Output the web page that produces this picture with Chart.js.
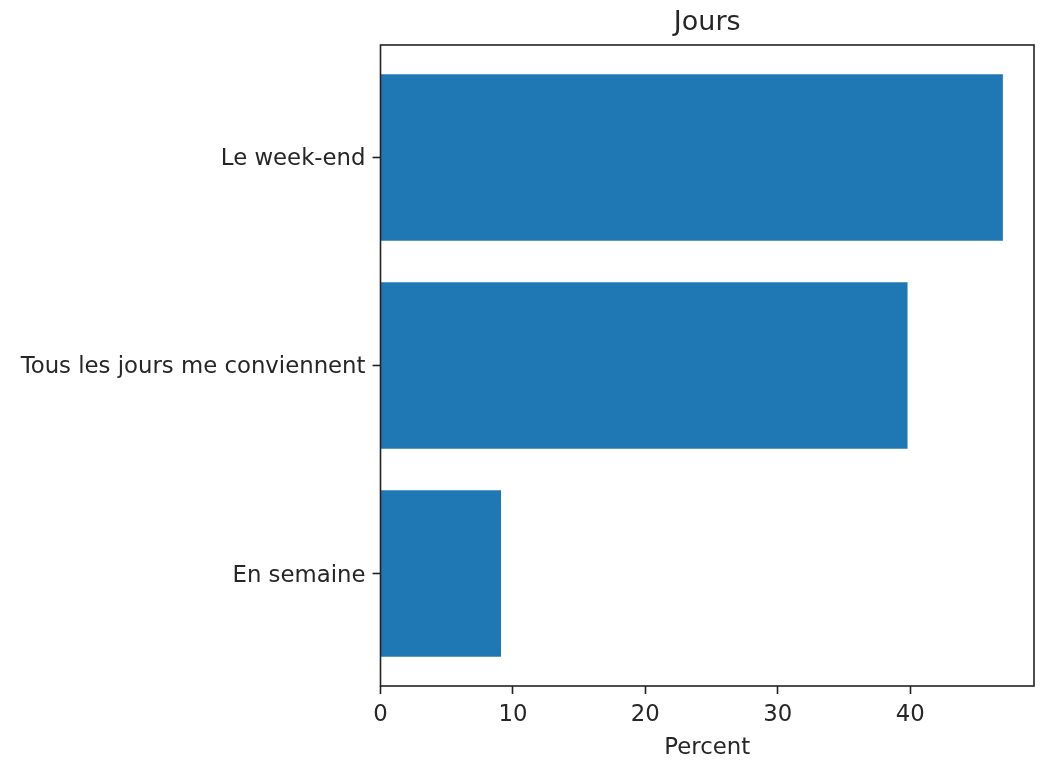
<!DOCTYPE html>
<html>
<head>
<meta charset="utf-8">
<title>Jours</title>
<script src="https://cdn.jsdelivr.net/npm/chart.js@4/dist/chart.umd.min.js"></script>
<style>
  html, body { margin: 0; padding: 0; background: #fff; }
  canvas { display: block; }
</style>
</head>
<body>
<canvas id="chart" width="1041" height="763"></canvas>
<script>
// categories bottom to top, as matplotlib barh draws them
const categories = ['En semaine', 'Tous les jours me conviennent', 'Le week-end'];
const percents = [9.1, 39.8, 47.0];
const xTicks = [0, 10, 20, 30, 40];

const textColor = '#262626';
const fontFamily = "'DejaVu Sans', sans-serif";

// frame around the plot + title centred on the plot area
const framePlugin = {
  id: 'frame',
  afterDraw(chart) {
    const { ctx, chartArea } = chart;
    ctx.save();
    ctx.strokeStyle = '#222';
    ctx.lineWidth = 1.6;
    ctx.strokeRect(chartArea.left, chartArea.top, chartArea.right - chartArea.left, chartArea.bottom - chartArea.top);
    ctx.fillStyle = textColor;
    ctx.font = '27px ' + fontFamily;
    ctx.textAlign = 'center';
    ctx.textBaseline = 'middle';
    ctx.fillText('Jours', (chartArea.left + chartArea.right) / 2, 23);
    ctx.restore();
  }
};

new Chart(document.getElementById('chart'), {
  type: 'bar',
  data: {
    datasets: [{
      data: percents.map((v, i) => ({ x: v, y: i })),
      backgroundColor: '#1f77b4',
      borderWidth: 0,
      barPercentage: 0.8,
      categoryPercentage: 1.0
    }]
  },
  options: {
    indexAxis: 'y',
    responsive: false,
    animation: false,
    layout: { padding: { top: 45, right: 7, left: 0, bottom: 0 } },
    plugins: {
      legend: { display: false },
      tooltip: { enabled: false }
    },
    scales: {
      x: {
        type: 'linear',
        min: 0,
        max: 49.35,
        offset: false,
        afterBuildTicks(scale) { scale.ticks = xTicks.map(v => ({ value: v })); },
        afterFit(scale) { scale.height = 77; },
        border: { display: false },
        grid: { drawOnChartArea: false, offset: false, tickLength: 8, tickColor: '#222', tickWidth: 1.6 },
        ticks: { color: textColor, padding: 7, maxRotation: 0, font: { family: fontFamily, size: 22.8 } },
        title: {
          display: true,
          text: 'Percent',
          color: textColor,
          padding: { top: 0, bottom: 1 },
          font: { family: fontFamily, size: 22.8 }
        }
      },
      y: {
        type: 'linear',
        min: -0.54,
        max: 2.54,
        offset: false,
        afterBuildTicks(scale) { scale.ticks = categories.map((c, i) => ({ value: i })); },
        afterFit(scale) { scale.width = 380.5; },
        border: { display: false },
        grid: { drawOnChartArea: false, offset: false, tickLength: 8, tickColor: '#222', tickWidth: 1.6 },
        ticks: {
          color: textColor,
          padding: 7,
          labelOffset: 2,
          font: { family: fontFamily, size: 22.8 },
          callback: (v) => categories[v]
        }
      }
    }
  },
  plugins: [framePlugin]
});
</script>
</body>
</html>
